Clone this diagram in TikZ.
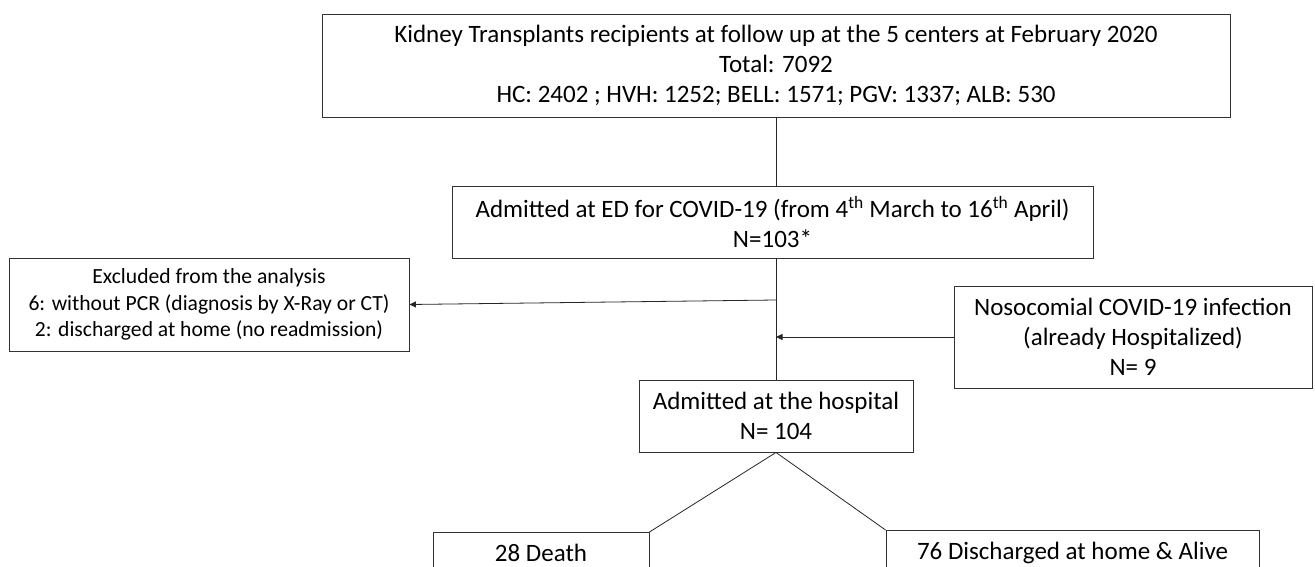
\documentclass[tikz,border=0pt]{standalone}
\usepackage{fontspec}
\setmainfont{Carlito}
\usetikzlibrary{arrows.meta}
\begin{document}
\begin{tikzpicture}[x=1pt,y=-1pt,
  box/.style={draw=black!80, line width=0.9pt, inner sep=0pt, align=center,
    font=\fontsize{25}{30}\selectfont},
  smallbox/.style={box, font=\fontsize{21.6}{26.5}\selectfont},
  link/.style={draw=black!85, line width=0.8pt},
  arr/.style={link, -{Triangle[length=6.5pt,width=6pt]}}]
\useasboundingbox (0,0) rectangle (1315,567);
\clip (0,0) rectangle (1315,567);

\node[box, minimum width=908pt, minimum height=103pt] (top) at (776,65.5)
  {Kidney Transplants recipients at follow up at the 5 centers at February 2020\\
   Total: 7092\\
   HC: 2402 ; HVH: 1252; BELL: 1571; PGV: 1337; ALB: 530};

\node[box, minimum width=641pt, minimum height=72pt] (ed) at (772.5,222)
  {Admitted at ED for COVID-19 (from 4\textsuperscript{th} March to 16\textsuperscript{th} April)\\
   N=103*};

\node[smallbox, minimum width=400pt, minimum height=93pt] (excl) at (209,304.5)
  {Excluded from the analysis\\
   6: without PCR (diagnosis by X-Ray or CT)\\
   2: discharged at home (no readmission)};

\node[box, minimum width=358pt, minimum height=102pt] (noso) at (1133,337)
  {Nosocomial COVID-19 infection\\
   (already Hospitalized)\\
   N= 9};

\node[box, minimum width=274pt, minimum height=72pt] (hosp) at (776,416)
  {Admitted at the hospital\\
   N= 104};

\node[box, anchor=north, minimum width=216pt, inner ysep=11.5pt,
  text height=17.5pt, text depth=30pt] (death) at (541,532) {28 Death};

\node[box, anchor=north, minimum width=373pt, inner ysep=11.5pt,
  text height=17.5pt, text depth=30pt] (disc) at (1072.5,530) {76 Discharged at home \& Alive};

\coordinate (j1) at (776,300);

\draw[link] (top.south -| hosp.north) -- (ed.north -| hosp.north);
\draw[link] (ed.south -| hosp.north) -- (hosp.north);
\draw[arr] (j1) -- (excl.east);
\draw[arr] (noso.west) -- (noso.west -| hosp.north);
\draw[link] (hosp.south) -- (death.north east);
\draw[link] (hosp.south) -- (disc.north west);
\end{tikzpicture}
\end{document}
